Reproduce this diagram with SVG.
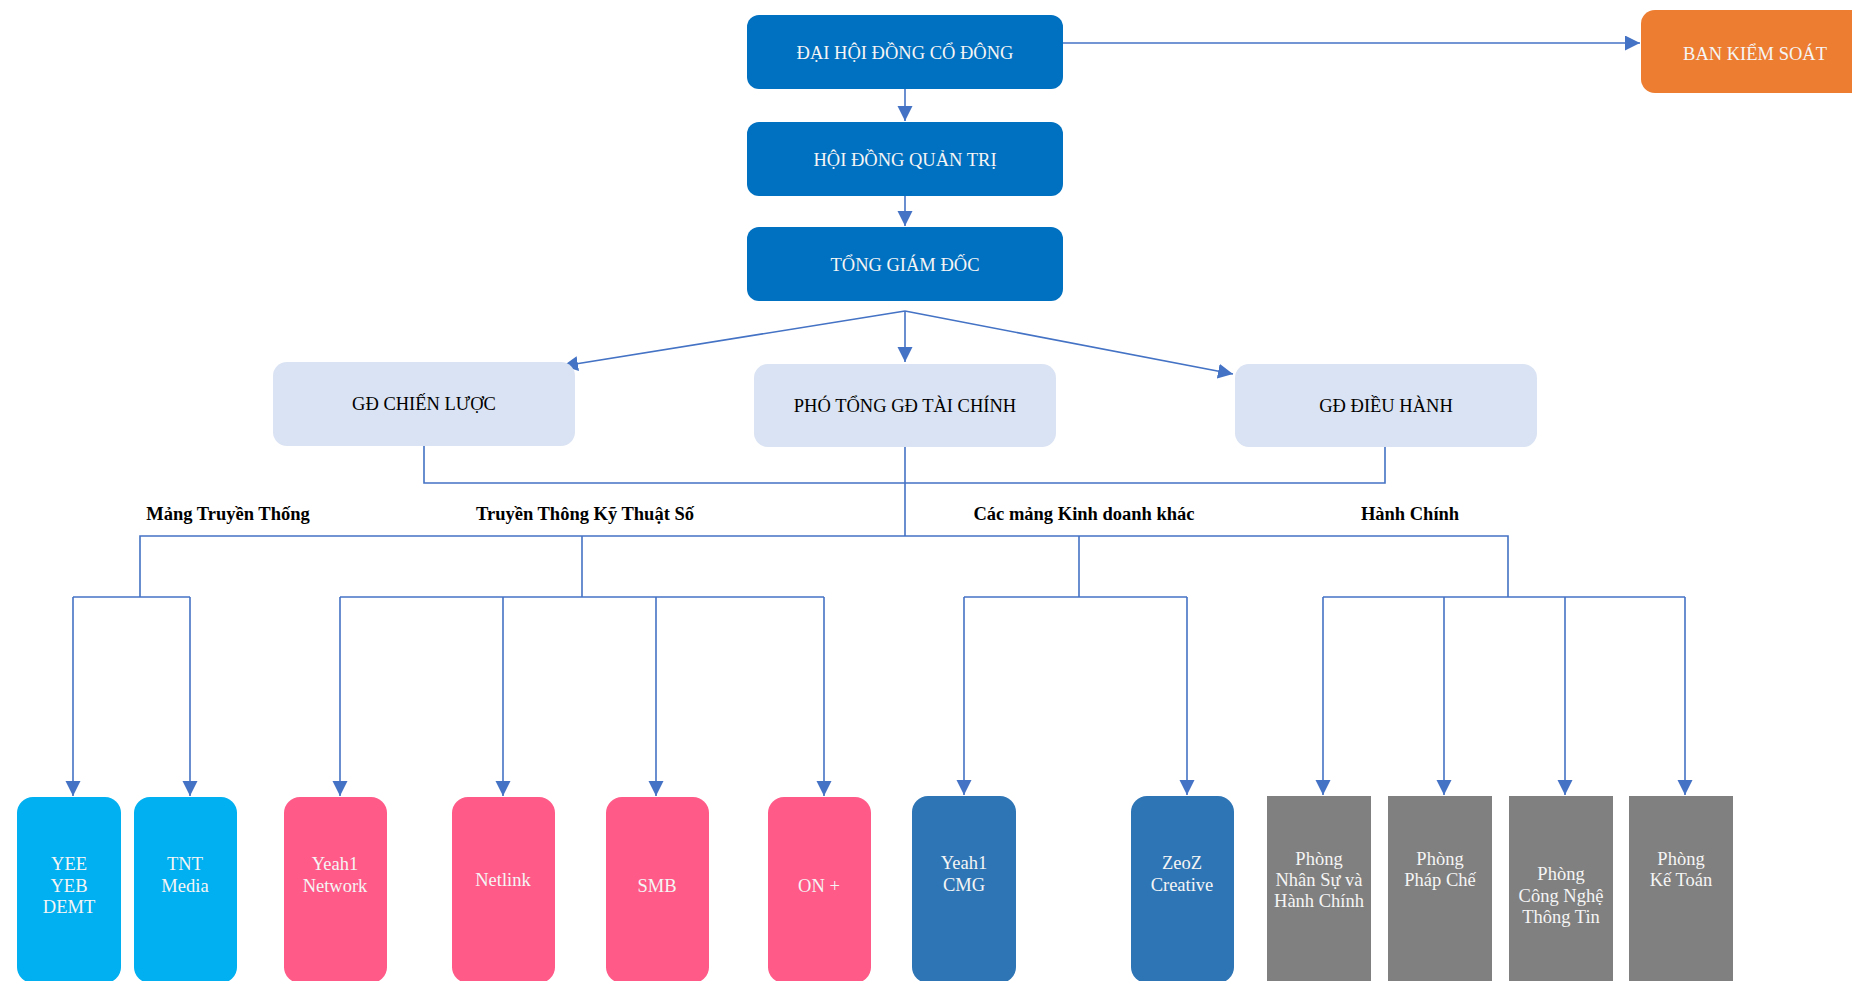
<svg xmlns="http://www.w3.org/2000/svg" width="1852" height="981" viewBox="0 0 1852 981">
<defs>
<marker id="arr" markerUnits="userSpaceOnUse" markerWidth="16" markerHeight="16" refX="15" refY="7.5" orient="auto">
<path d="M0,0 L15,7.5 L0,15 z" fill="#4472C4"/>
</marker>
<style>
.t{font-family:"Liberation Serif","Times New Roman",serif;font-size:18.5px;text-anchor:middle}
.w{fill:#F5F5F5}
.k{fill:#000}
.b{font-weight:bold}
.top{fill:#0070C0}
.lt{fill:#DAE3F3}
.cy{fill:#00B0F0}
.pk{fill:#FF5A88}
.db{fill:#2E75B6}
.gr{fill:#808080}
.c{fill:none;stroke:#4472C4;stroke-width:1.6}
.a{marker-end:url(#arr)}
</style>
</defs>
<rect width="1852" height="981" fill="#fff"/>

<g id="connectors">
<path class="c a" d="M1063,43 H1640"/>
<path class="c a" d="M905,89 V121"/>
<path class="c a" d="M905,196 V226"/>
<path class="c a" d="M905,311 L563,366"/>
<path class="c a" d="M905,311 V362"/>
<path class="c a" d="M905,311 L1233,374"/>
<path class="c" d="M424,446 V483 H1385 V447"/>
<path class="c" d="M905,447 V536"/>
<path class="c" d="M140,597 V536 H1508 V597"/>
<path class="c" d="M582,536 V597"/>
<path class="c" d="M1079,536 V597"/>
<path class="c" d="M73,597 H190"/>
<path class="c" d="M340,597 H824"/>
<path class="c" d="M964,597 H1187"/>
<path class="c" d="M1323,597 H1685"/>
<path class="c a" d="M73,597 V796"/>
<path class="c a" d="M190,597 V796"/>
<path class="c a" d="M340,597 V796"/>
<path class="c a" d="M503,597 V796"/>
<path class="c a" d="M656,597 V796"/>
<path class="c a" d="M824,597 V796"/>
<path class="c a" d="M964,597 V795"/>
<path class="c a" d="M1187,597 V795"/>
<path class="c a" d="M1323,597 V795"/>
<path class="c a" d="M1444,597 V795"/>
<path class="c a" d="M1565,597 V795"/>
<path class="c a" d="M1685,597 V795"/>
</g>

<g id="labels">
<text class="t k b" x="228" y="520">Mảng Truyền Thống</text>
<text class="t k b" x="585" y="520">Truyền Thông Kỹ Thuật Số</text>
<text class="t k b" x="1084" y="520">Các mảng Kinh doanh khác</text>
<text class="t k b" x="1410" y="520">Hành Chính</text>
</g>

<g id="dhdcd"><rect class="top" x="747" y="15" width="316" height="74" rx="12"/><text class="t w" x="905" y="59">ĐẠI HỘI ĐỒNG CỔ ĐÔNG</text></g>
<g id="hdqt"><rect class="top" x="747" y="122" width="316" height="74" rx="12"/><text class="t w" x="905" y="166">HỘI ĐỒNG QUẢN TRỊ</text></g>
<g id="tgd"><rect class="top" x="747" y="227" width="316" height="74" rx="12"/><text class="t w" x="905" y="271">TỔNG GIÁM ĐỐC</text></g>
<g id="bks"><rect x="1641" y="10" width="230" height="83" rx="14" fill="#ED7D31"/><text class="t w" x="1755" y="60">BAN KIỂM SOÁT</text></g>

<g id="gdcl"><rect class="lt" x="273" y="362" width="302" height="84" rx="14"/><text class="t k" x="424" y="410">GĐ CHIẾN LƯỢC</text></g>
<g id="ptgdtc"><rect class="lt" x="754" y="364" width="302" height="83" rx="14"/><text class="t k" x="905" y="412">PHÓ TỔNG GĐ TÀI CHÍNH</text></g>
<g id="gddh"><rect class="lt" x="1235" y="364" width="302" height="83" rx="14"/><text class="t k" x="1386" y="412">GĐ ĐIỀU HÀNH</text></g>

<g id="yee"><rect class="cy" x="17" y="797" width="104" height="186" rx="16"/><text class="t w" x="69" y="870">YEE</text><text class="t w" x="69" y="892">YEB</text><text class="t w" x="69" y="913">DEMT</text></g>
<g id="tnt"><rect class="cy" x="134" y="797" width="103" height="186" rx="16"/><text class="t w" x="185" y="870">TNT</text><text class="t w" x="185" y="892">Media</text></g>
<g id="yeah1net"><rect class="pk" x="284" y="797" width="103" height="186" rx="16"/><text class="t w" x="335" y="870">Yeah1</text><text class="t w" x="335" y="892">Network</text></g>
<g id="netlink"><rect class="pk" x="452" y="797" width="103" height="186" rx="16"/><text class="t w" x="503" y="886">Netlink</text></g>
<g id="smb"><rect class="pk" x="606" y="797" width="103" height="186" rx="16"/><text class="t w" x="657" y="892">SMB</text></g>
<g id="onplus"><rect class="pk" x="768" y="797" width="103" height="186" rx="16"/><text class="t w" x="819" y="892">ON +</text></g>
<g id="yeah1cmg"><rect class="db" x="912" y="796" width="104" height="187" rx="16"/><text class="t w" x="964" y="869">Yeah1</text><text class="t w" x="964" y="891">CMG</text></g>
<g id="zeoz"><rect class="db" x="1131" y="796" width="103" height="187" rx="16"/><text class="t w" x="1182" y="869">ZeoZ</text><text class="t w" x="1182" y="891">Creative</text></g>
<g id="phongns"><rect class="gr" x="1267" y="796" width="104" height="185"/><text class="t w" x="1319" y="865">Phòng</text><text class="t w" x="1319" y="886">Nhân Sự và</text><text class="t w" x="1319" y="907">Hành Chính</text></g>
<g id="phongpc"><rect class="gr" x="1388" y="796" width="104" height="185"/><text class="t w" x="1440" y="865">Phòng</text><text class="t w" x="1440" y="886">Pháp Chế</text></g>
<g id="phongcntt"><rect class="gr" x="1509" y="796" width="104" height="185"/><text class="t w" x="1561" y="880">Phòng</text><text class="t w" x="1561" y="902">Công Nghệ</text><text class="t w" x="1561" y="923">Thông Tin</text></g>
<g id="phongkt"><rect class="gr" x="1629" y="796" width="104" height="185"/><text class="t w" x="1681" y="865">Phòng</text><text class="t w" x="1681" y="886">Kế Toán</text></g>
</svg>
